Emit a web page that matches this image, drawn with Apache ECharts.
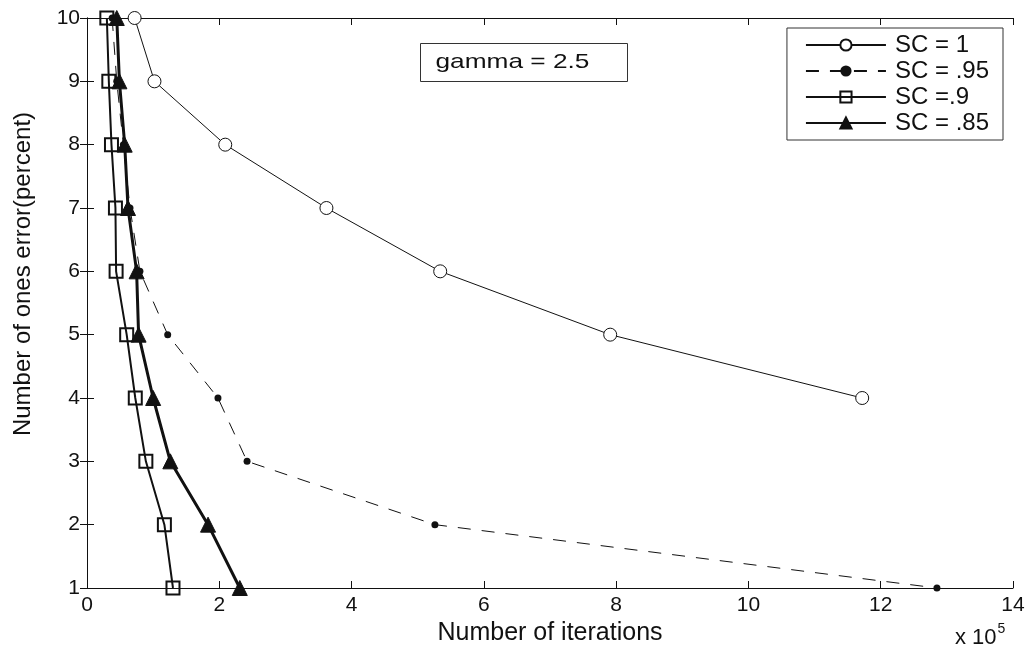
<!DOCTYPE html>
<html>
<head>
<meta charset="utf-8">
<script src="https://cdn.jsdelivr.net/npm/echarts@6/dist/echarts.min.js"></script>
<style>
  html, body { margin: 0; padding: 0; background: #fff; }
  #chart { width: 1034px; height: 652px; }
</style>
</head>
<body>
<div id="chart"></div>
<script>
// Error level (percent) on the vertical axis
const errorLevels = [10, 9, 8, 7, 6, 5, 4, 3, 2, 1];

// Iterations needed (in units of 1e5) for each SC setting
const itersSC100 = [0.72, 1.02, 2.09, 3.62, 5.34, 7.91, 11.72];      // levels 10..4
const itersSC095 = [0.38, 0.45, 0.55, 0.65, 0.80, 1.22, 1.98, 2.42, 5.26, 12.85];
const itersSC090 = [0.30, 0.33, 0.37, 0.43, 0.44, 0.60, 0.73, 0.89, 1.17, 1.30];
const itersSC085 = [0.45, 0.49, 0.57, 0.62, 0.75, 0.78, 1.00, 1.26, 1.83, 2.31];

const seriesNames = ['SC = 1', 'SC = .95', 'SC =.9', 'SC = .85'];
const xTicks = [0, 2, 4, 6, 8, 10, 12, 14];

const pairs = (xs) => xs.map((x, i) => [x, errorLevels[i]]);

const FONT = 'Liberation Sans, Arial, Helvetica, sans-serif';
const INK = '#111';

const chart = echarts.init(document.getElementById('chart'), null, { renderer: 'canvas' });

const boxAxis = {
  axisLine: { show: true, lineStyle: { color: INK, width: 1 } },
  axisTick: { show: true, inside: true, length: 7, lineStyle: { color: INK } },
  splitLine: { show: false }
};

chart.setOption({
  animation: false,
  backgroundColor: '#fff',
  grid: { left: 87, right: 21, top: 18, bottom: 64, containLabel: false },
  xAxis: [
    Object.assign({
      type: 'value', min: 0, max: 14, interval: 2, position: 'bottom',
      name: 'Number of iterations', nameLocation: 'middle', nameGap: 25,
      nameTextStyle: { fontFamily: FONT, fontSize: 25, color: INK },
      axisLabel: { fontFamily: FONT, fontSize: 21, color: INK, margin: 7,
        formatter: (v) => xTicks.includes(v) ? String(v) : '' }
    }, boxAxis),
    Object.assign({
      type: 'value', min: 0, max: 14, interval: 2, position: 'top',
      axisLabel: { show: false }
    }, boxAxis)
  ],
  yAxis: [
    Object.assign({
      type: 'value', min: 1, max: 10, interval: 1, position: 'left',
      axisLabel: { fontFamily: FONT, fontSize: 21, color: INK, margin: 7 }
    }, boxAxis),
    Object.assign({
      type: 'value', min: 1, max: 10, interval: 1, position: 'right',
      axisLabel: { show: false }
    }, boxAxis)
  ],
  legend: {
    orient: 'vertical', right: 31, top: 28,
    data: seriesNames,
    backgroundColor: '#fff',
    borderColor: '#333', borderWidth: 1,
    padding: [5, 14, 5, 18],
    itemGap: 2, itemWidth: 80, itemHeight: 14,
    textStyle: { fontFamily: FONT, fontSize: 24, color: INK, padding: [0, 0, 0, 4] },
    selectedMode: false
  },
  series: [
    {
      name: seriesNames[0], type: 'line', data: pairs(itersSC100),
      symbol: 'circle', symbolSize: 13,
      lineStyle: { color: INK, width: 1 },
      itemStyle: { color: '#fff', borderColor: INK, borderWidth: 1 }
    },
    {
      name: seriesNames[1], type: 'line', data: pairs(itersSC095),
      symbol: 'circle', symbolSize: 7,
      lineStyle: { color: INK, width: 1, type: [13, 11] },
      itemStyle: { color: INK, borderColor: INK, borderWidth: 0 }
    },
    {
      name: seriesNames[2], type: 'line', data: pairs(itersSC090),
      symbol: 'rect', symbolSize: 13,
      lineStyle: { color: INK, width: 2 },
      itemStyle: { color: 'rgba(255,255,255,0)', borderColor: INK, borderWidth: 2 }
    },
    {
      name: seriesNames[3], type: 'line', data: pairs(itersSC085),
      symbol: 'triangle', symbolSize: 15,
      lineStyle: { color: INK, width: 3 },
      itemStyle: { color: INK, borderColor: INK, borderWidth: 1 }
    }
  ],
  graphic: [
    {
      // vertical axis title
      type: 'text', x: 23, y: 274, rotation: Math.PI / 2,
      style: { text: 'Number of ones error(percent)', fontFamily: FONT, fontSize: 24,
               fill: INK, align: 'center', verticalAlign: 'middle' }
    },
    {
      type: 'group', left: 420, top: 43,
      children: [
        { type: 'rect', shape: { x: 0, y: 0, width: 207, height: 38 },
          style: { fill: '#fff', stroke: '#333', lineWidth: 1 } },
        { type: 'text', x: 15, y: 19, scaleX: 1.25,
          style: { text: 'gamma = 2.5', fontFamily: FONT, fontSize: 21, fill: INK,
                   verticalAlign: 'middle' } }
      ]
    },
    {
      type: 'text', left: 955, top: 622,
      style: {
        text: '{b|x 10}{s|5}', fill: INK,
        rich: {
          b: { fontFamily: FONT, fontSize: 22, color: INK, padding: [9, 0, 0, 0] },
          s: { fontFamily: FONT, fontSize: 14, color: INK, padding: [0, 0, 9, 1] }
        }
      }
    }
  ]
});
</script>
</body>
</html>
